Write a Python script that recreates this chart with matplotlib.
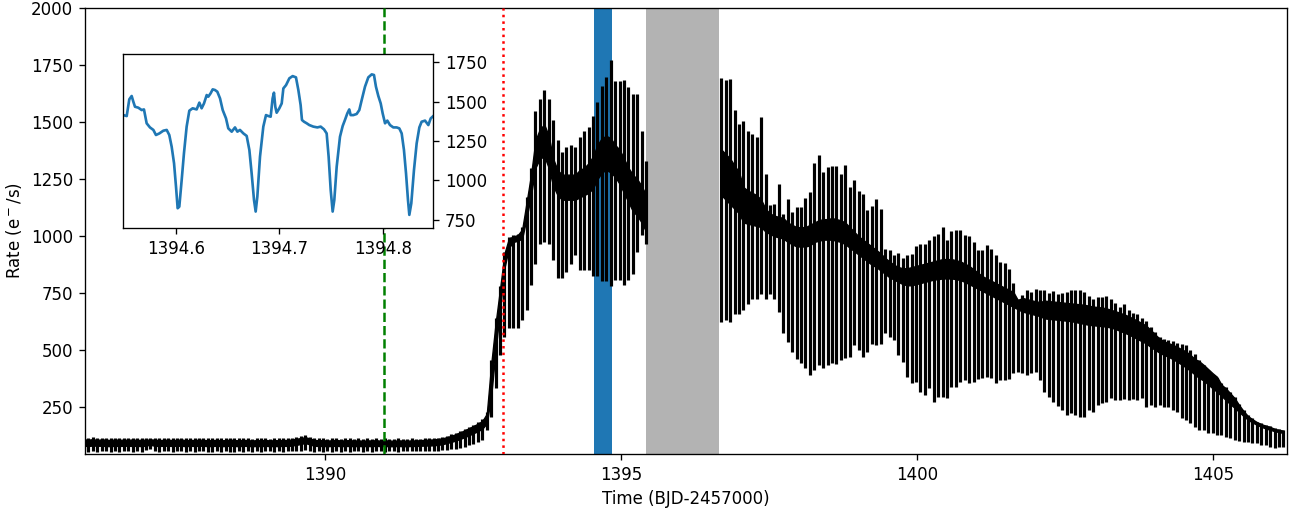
import numpy as np
import matplotlib
matplotlib.use("Agg")
import matplotlib.pyplot as plt
from matplotlib.ticker import FormatStrFormatter

# Eclipse ephemeris (dip times ~1394.6016 .. 1394.8258)
EPOCH = 1394.6016
PERIOD = 0.07473

# segment A: cycles -116 .. 11 (before the data gap)
A_FIRST = -116
A_HI = [
    118, 117, 119, 116, 118, 117, 115, 118, 116, 117,
    116, 118, 115, 117, 116, 118, 117, 115, 116, 117,
    115, 116, 118, 114, 116, 115, 117, 116, 114, 115,
    116, 114, 115, 117, 115, 114, 116, 115, 113, 115,
    114, 116, 113, 115, 114, 116, 115, 118, 121, 124,
    129, 122, 116, 114, 115, 113, 114, 116, 113, 114,
    115, 113, 114, 112, 114, 113, 115, 112, 114, 113,
    112, 114, 113, 112, 114, 113,
    113, 114, 115, 116, 118, 121, 126, 132, 139, 147, 156, 165, 175, 186, 198, 232, 460,
    640, 780, 930, 995, 1005, 1010, 1040, 1170, 1300, 1550, 1600, 1640, 1600, 1510, 1420,
    1370, 1390, 1398, 1390, 1434, 1463, 1478, 1529, 1587, 1660, 1697, 1772, 1682, 1682,
    1685, 1653, 1624, 1624, 1463, 1330,
]
A_LO = [
    57, 55, 58, 56, 59, 57, 55, 58, 56, 57,
    58, 56, 57, 55, 62, 68, 57, 56, 58, 57,
    56, 58, 57, 55, 57, 56, 58, 57, 55, 56,
    57, 56, 58, 56, 55, 57, 56, 58, 56, 57,
    56, 58, 57, 55, 57, 56, 58, 57, 59, 60,
    62, 58, 56, 57, 55, 57, 56, 58, 56, 57,
    56, 58, 57, 55, 57, 56, 58, 57, 56, 58,
    57, 56, 58, 57, 58, 59,
    58, 59, 58, 60, 60, 62, 64, 66, 70, 74, 78, 84, 90, 98, 108, 150, 210,
    333, 479, 559, 596, 596, 596, 635, 676, 785, 880, 965, 975, 968, 895, 815,
    815, 844, 880, 917, 851, 851, 851, 825, 824, 803, 803, 782, 807, 810,
    785, 810, 836, 931, 1007, 968,
]
A_BAND_LO = [
    82, 81, 83, 82, 82, 81, 80, 82, 81, 82,
    82, 81, 82, 80, 83, 86, 82, 81, 82, 82,
    81, 82, 82, 80, 82, 81, 82, 82, 80, 81,
    82, 80, 81, 82, 81, 80, 82, 81, 80, 81,
    80, 82, 80, 81, 80, 82, 81, 83, 86, 90,
    94, 88, 82, 81, 81, 80, 81, 82, 80, 81,
    81, 80, 81, 80, 81, 80, 82, 80, 81, 80,
    80, 81, 80, 80, 81, 81,
    82, 83, 83, 84, 86, 89, 94, 99, 105, 112, 120, 128, 137, 146, 157, 180, 300,
    500, 680, 860, 950, 975, 980, 990, 1080, 1180, 1300, 1340, 1350, 1300, 1220, 1180,
    1160, 1160, 1160, 1160, 1170, 1180, 1190, 1210, 1250, 1280, 1290, 1280, 1260, 1230,
    1190, 1150, 1110, 1090, 1060, 1020,
]
A_BAND_HI = [
    110, 109, 111, 108, 110, 109, 107, 110, 108, 109,
    108, 110, 107, 109, 108, 110, 109, 107, 108, 109,
    107, 108, 110, 106, 108, 107, 109, 108, 106, 107,
    108, 106, 107, 109, 107, 106, 108, 107, 105, 107,
    106, 108, 105, 107, 106, 108, 107, 110, 113, 116,
    120, 114, 108, 106, 107, 105, 106, 108, 105, 106,
    107, 105, 106, 104, 106, 105, 107, 104, 106, 105,
    104, 106, 105, 104, 106, 105,
    107, 108, 109, 110, 112, 115, 120, 126, 133, 141, 150, 159, 169, 179, 191, 222, 440,
    620, 770, 925, 990, 1000, 1005, 1030, 1150, 1270, 1420, 1470, 1490, 1440, 1340, 1290,
    1270, 1270, 1270, 1270, 1290, 1300, 1320, 1350, 1400, 1430, 1440, 1430, 1400, 1380,
    1340, 1300, 1270, 1250, 1220, 1180,
]

# segment B: cycles 28 .. 155 (after the data gap)
B_FIRST = 28
B_HI = [
    1694, 1685, 1689, 1554, 1492, 1507, 1460, 1449, 1434, 1522, 1274, 1135, 1143, 1230,
    1099, 1164, 1106, 1128, 1128, 1169, 1194, 1320, 1354, 1281, 1303, 1308, 1306,
    1274, 1310, 1215, 1245, 1198, 1183, 1116, 1131, 1164, 1118, 946, 938, 917, 927, 906,
    917, 921, 956, 965, 965, 985, 1000, 1011, 1041, 985, 1023, 1029, 1029, 1007, 1001,
    975, 941, 938, 960, 946, 917, 887, 883, 858, 793, 727, 742, 763, 756, 771, 765,
    766, 752, 761, 746, 752, 756, 766, 763, 766, 756, 737, 723, 734, 734, 737, 727, 708,
    691, 705, 679, 664, 661, 640, 629, 603, 581, 559, 548, 545, 542, 533, 527, 523, 501,
    486, 457, 435, 414, 392, 377, 358, 341, 319, 297, 265, 239, 217, 202, 188, 180, 173,
    169, 158, 155, 150,
]
B_LO = [
    625, 632, 625, 661, 661, 676, 705, 727, 727, 749, 727, 749, 727, 669,
    574, 537, 494, 464, 443, 421, 392, 414, 435, 421, 435, 446, 440,
    460, 465, 472, 523, 501, 472, 494, 530, 523, 530, 574, 559, 545, 479, 450,
    384, 355, 363, 319, 304, 333, 275, 297, 294, 290, 341, 341, 360, 370, 358,
    363, 373, 377, 384, 381, 358, 370, 370, 373, 399, 406, 399, 392, 399, 406, 370,
    319, 297, 275, 256, 239, 217, 224, 217, 209, 209, 239, 231, 260, 268, 275, 290, 282,
    282, 285, 282, 285, 282, 290, 253, 260, 253, 260, 253, 253, 239, 231, 202, 195, 180,
    166, 151, 151, 139, 137, 129, 129, 122, 115, 107, 104, 100, 100, 93, 93, 85, 85,
    78, 71, 75, 75,
]
B_BAND_LO = [
    1180, 1160, 1140, 1120, 1100, 1060, 1055, 1050, 1045, 1040, 1020, 1010, 1000, 995,
    990, 975, 965, 955, 955, 955, 960, 975, 980, 985, 985, 985, 980,
    975, 965, 950, 935, 920, 905, 890, 875, 865, 850, 835, 820, 810, 800, 790,
    785, 785, 790, 795, 800, 805, 810, 812, 815, 815, 815, 812, 808, 800, 790,
    780, 770, 760, 750, 740, 730, 720, 710, 700, 690, 680, 670, 665, 660, 655, 650,
    640, 638, 636, 634, 632, 630, 628, 624, 620, 616, 612, 610, 608, 606, 604, 600, 594,
    586, 578, 570, 560, 550, 540, 530, 515, 502, 490, 480, 472, 462, 450, 438, 425, 410,
    394, 378, 368, 350, 334, 318, 300, 282, 264, 248, 230, 212, 196, 184, 174, 165, 158,
    152, 146, 142, 138,
]
B_BAND_HI = [
    1380, 1360, 1340, 1310, 1280, 1215, 1200, 1190, 1180, 1160, 1120, 1100, 1090, 1085,
    1080, 1060, 1050, 1040, 1040, 1040, 1050, 1060, 1070, 1075, 1075, 1080, 1075,
    1070, 1060, 1040, 1020, 1000, 985, 970, 955, 940, 925, 905, 890, 875, 865, 860,
    860, 865, 870, 875, 880, 885, 890, 895, 900, 900, 900, 895, 890, 880, 870,
    855, 840, 825, 815, 805, 795, 785, 775, 765, 755, 720, 730, 725, 720, 715, 712,
    718, 716, 714, 712, 710, 708, 706, 704, 702, 700, 696, 692, 690, 688, 684, 678, 672,
    665, 658, 650, 640, 630, 620, 608, 590, 570, 552, 540, 532, 525, 515, 505, 495, 480,
    462, 452, 436, 418, 400, 384, 350, 333, 312, 290, 260, 234, 212, 198, 186, 177, 170,
    165, 156, 152, 148,
]

# inset: zoom on the light curve around 1394.55 - 1394.85
IN_TIME = [
    1394.5490, 1394.5523, 1394.5548, 1394.5571, 1394.5587, 1394.5603, 1394.5635, 1394.5668,
    1394.5690, 1394.5716, 1394.5748, 1394.5781, 1394.5806, 1394.5839, 1394.5877, 1394.5910,
    1394.5935, 1394.5958, 1394.5981, 1394.6000, 1394.6016, 1394.6032, 1394.6055, 1394.6077,
    1394.6103, 1394.6129, 1394.6161, 1394.6200, 1394.6226, 1394.6248, 1394.6271, 1394.6297,
    1394.6313, 1394.6335, 1394.6355, 1394.6377, 1394.6400, 1394.6426, 1394.6452, 1394.6484,
    1394.6506, 1394.6539, 1394.6571, 1394.6594, 1394.6619, 1394.6652, 1394.6684, 1394.6710,
    1394.6732, 1394.6755, 1394.6771, 1394.6787, 1394.6813, 1394.6845, 1394.6871, 1394.6894,
    1394.6916, 1394.6935, 1394.6948, 1394.6961, 1394.6974, 1394.7000, 1394.7023, 1394.7039,
    1394.7065, 1394.7097, 1394.7129, 1394.7161, 1394.7184, 1394.7206, 1394.7219, 1394.7239,
    1394.7265, 1394.7290, 1394.7329, 1394.7368, 1394.7400, 1394.7432, 1394.7458, 1394.7477,
    1394.7497, 1394.7516, 1394.7532, 1394.7555, 1394.7587, 1394.7613, 1394.7635, 1394.7658,
    1394.7677, 1394.7690, 1394.7716, 1394.7748, 1394.7774, 1394.7797, 1394.7829, 1394.7861,
    1394.7894, 1394.7916, 1394.7935, 1394.7958, 1394.7981, 1394.8000, 1394.8023, 1394.8045,
    1394.8071, 1394.8103, 1394.8135, 1394.8161, 1394.8184, 1394.8206, 1394.8226, 1394.8245,
    1394.8258, 1394.8277, 1394.8303, 1394.8329, 1394.8355, 1394.8377, 1394.8410, 1394.8442,
    1394.8465, 1394.8490,
]
IN_RATE = [
    1414, 1408, 1514, 1535, 1499, 1467, 1461, 1446, 1450, 1362, 1336, 1320, 1288, 1298,
    1315, 1320, 1288, 1214, 1109, 961, 824, 834, 1003, 1172, 1341, 1442, 1457, 1450,
    1493, 1457, 1488, 1541, 1531, 1552, 1577, 1573, 1562, 1520, 1446, 1393, 1330, 1309,
    1336, 1309, 1320, 1298, 1282, 1193, 1045, 876, 803, 897, 1151, 1341, 1414, 1408,
    1404, 1520, 1556, 1467, 1429, 1457, 1488, 1583, 1604, 1647, 1661, 1653, 1573, 1478,
    1383, 1372, 1362, 1351, 1341, 1336, 1341, 1324, 1298, 1151, 940, 803, 876, 1087,
    1277, 1345, 1383, 1425, 1450, 1414, 1414, 1421, 1446, 1509, 1594, 1653, 1672, 1668,
    1594, 1535, 1488, 1425, 1362, 1379, 1351, 1336, 1336, 1330, 1298, 1193, 1045, 876,
    782, 855, 1066, 1235, 1336, 1372, 1379, 1351, 1393, 1408,
]

W, H = 1297, 514
fig = plt.figure(figsize=(W / 120, H / 120), dpi=120)
ax = fig.add_axes([85 / W, 60 / H, 1201.7 / W, 446 / H])

ax.axvspan(1394.55, 1394.85, color="C0", lw=0, zorder=1)
ax.axvspan(1395.42, 1396.65, color="0.7", lw=0, zorder=1)

for first, lo, hi, blo, bhi in [
    (A_FIRST, A_LO, A_HI, A_BAND_LO, A_BAND_HI),
    (B_FIRST, B_LO, B_HI, B_BAND_LO, B_BAND_HI),
]:
    t = EPOCH + PERIOD * np.arange(first, first + len(hi))
    ax.fill_between(t, blo, bhi, color="k", lw=0.8, zorder=2)
    ax.vlines(t, lo, hi, color="k", lw=1.9, zorder=2)

ax.axvline(1391.0, color="green", ls="--", lw=1.5, zorder=3)
ax.axvline(1393.0, color="red", ls=":", lw=1.5, zorder=3)

ax.set_xlim(1385.95, 1406.24)
ax.set_ylim(46, 2000)
ax.set_xticks([1390, 1395, 1400, 1405])
ax.set_yticks(np.arange(250, 2001, 250))
ax.ticklabel_format(useOffset=False)
ax.set_xlabel("Time (BJD-2457000)")
ax.set_ylabel(r"Rate (e$^-$/s)")

axins = fig.add_axes([123.3 / W, (H - 228.3) / H, 310 / W, 174.3 / H], zorder=5)
axins.plot(IN_TIME, IN_RATE, color="C0", lw=1.6)
axins.yaxis.tick_right()
axins.set_xlim(1394.549, 1394.849)
axins.set_ylim(697, 1801)
axins.set_xticks([1394.6, 1394.7, 1394.8])
axins.set_yticks([750, 1000, 1250, 1500, 1750])
axins.xaxis.set_major_formatter(FormatStrFormatter("%.1f"))

fig.savefig("out.png", dpi=120)
